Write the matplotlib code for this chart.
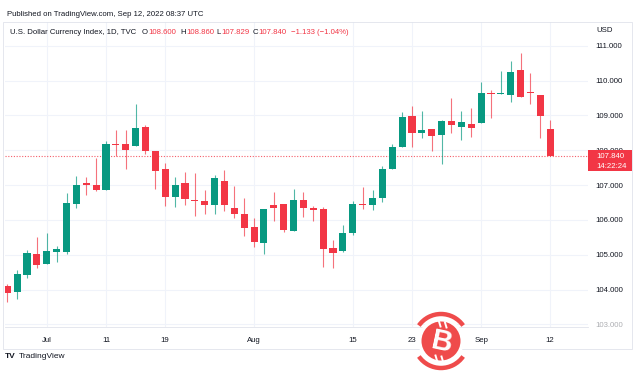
import numpy as np
import pandas as pd
import matplotlib.pyplot as plt
from matplotlib.patches import Rectangle, Circle, Arc

plt.rcParams["font.family"] = ["Liberation Sans", "DejaVu Sans"]

# DXY daily candles, Jun 27 - Sep 12 2022 (weekdays)
dates = pd.bdate_range("2022-06-27", "2022-09-12")
opens = [104.10, 103.93, 104.43, 105.03, 104.72, 105.08, 105.08, 106.47, 107.06, 107.01,
         106.85, 108.17, 108.17, 108.11, 108.67, 107.97, 107.45, 106.66, 107.07, 106.56,
         106.53, 106.42, 107.11, 106.34, 106.18, 105.80, 105.34, 106.42, 106.45, 105.68,
         106.56, 106.33, 106.32, 105.18, 105.11, 105.62, 106.47, 106.42, 106.64, 107.47,
         108.08, 108.99, 108.50, 108.61, 108.43, 108.83, 108.67, 108.75, 108.79, 109.65,
         109.60, 109.58, 110.30, 109.68, 109.58, 108.600]
highs = [104.17, 104.57, 105.13, 105.51, 105.61, 105.24, 106.77, 107.25, 107.22, 107.78,
         108.26, 108.57, 108.57, 109.32, 108.72, 107.97, 107.62, 107.23, 107.36, 107.35,
         106.87, 107.28, 107.43, 106.97, 106.64, 106.04, 106.32, 106.80, 106.45, 106.90,
         106.79, 106.39, 106.37, 105.43, 105.84, 106.53, 106.93, 106.87, 107.55, 108.19,
         109.10, 109.26, 109.12, 108.61, 108.86, 109.49, 109.12, 109.20, 109.96, 109.72,
         110.27, 110.57, 110.78, 110.23, 109.58, 108.860]
lows = [103.64, 103.74, 104.34, 104.62, 104.72, 104.79, 105.03, 106.35, 106.71, 106.83,
        106.85, 107.83, 107.47, 108.11, 107.90, 106.88, 106.39, 106.37, 106.42, 106.11,
        106.18, 106.18, 106.26, 106.04, 105.53, 105.22, 105.01, 105.97, 105.65, 105.68,
        106.08, 105.97, 104.65, 104.63, 105.07, 105.56, 106.30, 106.28, 106.50, 107.47,
        108.08, 108.08, 108.35, 107.98, 107.59, 108.50, 108.29, 108.38, 108.79, 108.93,
        109.60, 109.37, 109.52, 109.32, 108.35, 107.829]
closes = [103.91, 104.46, 105.06, 104.70, 105.10, 105.15, 106.48, 107.01, 107.01, 106.85,
          108.19, 108.14, 108.00, 108.65, 107.97, 107.40, 106.66, 107.01, 106.59, 106.53,
          106.44, 107.19, 106.42, 106.18, 105.78, 105.36, 106.32, 106.35, 105.72, 106.56,
          106.35, 106.28, 105.16, 105.06, 105.63, 106.47, 106.43, 106.64, 107.45, 108.09,
          108.96, 108.50, 108.59, 108.40, 108.83, 108.72, 108.80, 108.65, 109.63, 109.60,
          109.63, 110.25, 109.52, 109.63, 108.973, 107.840]

tick_dates = ["2022-07-01", "2022-07-11", "2022-07-19", "2022-08-01",
              "2022-08-15", "2022-08-23", "2022-09-01", "2022-09-12"]
tick_labels = ["Jul", "11", "19", "Aug", "15", "23", "Sep", "12"]
price_levels = [103, 104, 105, 106, 107, 108, 109, 110, 111]

UP = "#089981"
DOWN = "#f23645"
TXT = "#131722"
GRID = "#f0f3fa"
FS = 5.6

o = np.array(opens)
h = np.array(highs)
l = np.array(lows)
c = np.array(closes)
x = np.arange(len(dates))
up = c >= o
cols = np.where(up, UP, DOWN)

W, H = 635, 376
fig = plt.figure(figsize=(W / 100, H / 100), dpi=100)
ax = fig.add_axes([5 / W, 1 - 327 / H, 583 / W, 305 / H])

# wicks + bodies
ax.vlines(x, l, h, colors=cols, linewidth=0.8, alpha=0.7, zorder=3)
body_bot = np.minimum(o, c)
body_h = np.maximum(np.abs(c - o), 0.04)
ax.bar(x, body_h, bottom=body_bot, width=0.72, color=cols, zorder=4, linewidth=0)

# last price line
ax.axhline(closes[-1], color=DOWN, linestyle=(0, (1, 1.5)), linewidth=0.8, alpha=0.8, zorder=2)

ax.set_xlim(-0.233, 58.83)
ax.set_ylim(102.925, 111.68)

tick_pos = [dates.get_loc(pd.Timestamp(d)) for d in tick_dates]
ax.set_xticks(tick_pos)
ax.set_xticklabels(tick_labels)
ax.yaxis.tick_right()
ax.set_yticks(price_levels)
ax.set_yticklabels([f"{v:.3f}" for v in price_levels])
ax.tick_params(axis="both", length=0, labelsize=FS, colors=TXT)
ax.tick_params(axis="y", pad=5)
ax.tick_params(axis="x", pad=7.5)
ax.yaxis.get_ticklabels()[0].set_alpha(0.35)
ax.grid(True, color=GRID, linewidth=0.8, zorder=0)
for s in ["top", "right", "left"]:
    ax.spines[s].set_visible(False)
ax.spines["bottom"].set_color("#e0e3eb")
ax.spines["bottom"].set_linewidth(0.6)

# overlay in pixel coordinates for the decorations
ov = fig.add_axes([0, 0, 1, 1], zorder=10)
ov.set_xlim(0, W)
ov.set_ylim(H, 0)
ov.axis("off")

ov.add_patch(Rectangle((3, 22), 629, 327, fill=False, edgecolor="#e0e3eb", linewidth=0.6))
ov.text(7, 14, "Published on TradingView.com, Sep 12, 2022 08:37 UTC",
        fontsize=FS, color=TXT, va="center")

# legend line
chg = closes[-1] - closes[-2]
pct = chg / closes[-2] * 100
ov.text(10, 32, "U.S. Dollar Currency Index, 1D, TVC", fontsize=FS, color=TXT, va="center")
for lx, lab, vx, val in [(142, "O", 148, opens[-1]), (180, "H", 186, highs[-1]),
                         (216, "L", 221, lows[-1]), (253, "C", 258, closes[-1])]:
    ov.text(lx, 32, lab, fontsize=FS, color=TXT, va="center")
    ov.text(vx, 32, f"{val:.3f}", fontsize=FS, color=DOWN, va="center")
ov.text(291, 32, f"\u2212{abs(chg):.3f} (\u2212{abs(pct):.2f}%)",
        fontsize=FS, color=DOWN, va="center")

ov.text(596, 30, "USD", fontsize=FS, color=TXT, va="center")

# price label box
ov.add_patch(Rectangle((588, 150), 44, 21, color=DOWN, linewidth=0))
ov.text(596, 156, f"{closes[-1]:.3f}", fontsize=FS, color="white", va="center")
ov.text(596, 166, "14:22:24", fontsize=FS, color="white", va="center")

# TradingView footer
ov.text(5, 356, "TV", fontsize=6, fontweight="heavy", color=TXT, va="center")
ov.text(19, 356, "TradingView", fontsize=FS + 0.4, color=TXT, va="center")

# bitcoin watermark
wm = "#ef4b4b"
ov.add_patch(Circle((441, 341), 23, color="white", linewidth=0))
ov.add_patch(Arc((441, 341), 54, 54, theta1=35, theta2=145, color=wm, linewidth=3.2))
ov.add_patch(Arc((441, 341), 54, 54, theta1=215, theta2=325, color=wm, linewidth=3.2))
ov.add_patch(Circle((441, 341), 19.5, color=wm, linewidth=0))
ov.text(442, 342, "B", fontsize=21, fontweight="bold", color="white",
        ha="center", va="center", rotation=-12)
ov.plot([439, 440.5], [321.5, 326.5], color="white", linewidth=1.4)
ov.plot([445, 446.5], [322.5, 327.5], color="white", linewidth=1.4)
ov.plot([435.5, 437], [355.5, 360.5], color="white", linewidth=1.4)
ov.plot([441.5, 443], [356.5, 361.5], color="white", linewidth=1.4)

fig.savefig("out.png", dpi=100, facecolor="white")
